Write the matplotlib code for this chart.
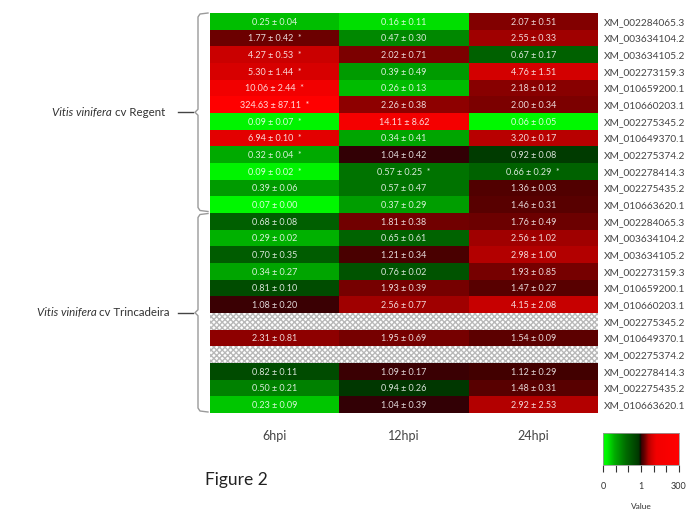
import numpy as np
import matplotlib
matplotlib.use("Agg")
import matplotlib.pyplot as plt
from matplotlib.colors import LinearSegmentedColormap, FuncNorm
from matplotlib.patches import Rectangle
from matplotlib.lines import Line2D

plt.rcParams["font.family"] = ["Lato", "DejaVu Sans"]

genes = ["XM_002284065.3", "XM_003634104.2", "XM_003634105.2", "XM_002273159.3",
         "XM_010659200.1", "XM_010660203.1", "XM_002275345.2", "XM_010649370.1",
         "XM_002275374.2", "XM_002278414.3", "XM_002275435.2", "XM_010663620.1"]
row_labels = genes + genes
timepoints = ["6hpi", "12hpi", "24hpi"]
cultivars = ["Regent", "Trincadeira"]

nan = np.nan
# fold change (mean) and sd per time point, Regent rows first then Trincadeira
mean_6 = [0.25, 1.77, 4.27, 5.30, 10.06, 324.63, 0.09, 6.94, 0.32, 0.09, 0.39, 0.07,
          0.68, 0.29, 0.70, 0.34, 0.81, 1.08, nan, 2.31, nan, 0.82, 0.50, 0.23]
sd_6 = [0.04, 0.42, 0.53, 1.44, 2.44, 87.11, 0.07, 0.10, 0.04, 0.02, 0.06, 0.00,
        0.08, 0.02, 0.35, 0.27, 0.10, 0.20, nan, 0.81, nan, 0.11, 0.21, 0.09]
mean_12 = [0.16, 0.47, 2.02, 0.39, 0.26, 2.26, 14.11, 0.34, 1.04, 0.57, 0.57, 0.37,
           1.81, 0.65, 1.21, 0.76, 1.93, 2.56, nan, 1.95, nan, 1.09, 0.94, 1.04]
sd_12 = [0.11, 0.30, 0.71, 0.49, 0.13, 0.38, 8.62, 0.41, 0.42, 0.25, 0.47, 0.29,
         0.38, 0.61, 0.34, 0.02, 0.39, 0.77, nan, 0.69, nan, 0.17, 0.26, 0.39]
mean_24 = [2.07, 2.55, 0.67, 4.76, 2.18, 2.00, 0.06, 3.20, 0.92, 0.66, 1.36, 1.46,
           1.76, 2.56, 2.98, 1.93, 1.47, 4.15, nan, 1.54, nan, 1.12, 1.48, 2.92]
sd_24 = [0.51, 0.33, 0.17, 1.51, 0.12, 0.34, 0.05, 0.17, 0.08, 0.29, 0.03, 0.31,
         0.49, 1.02, 1.00, 0.85, 0.27, 2.08, nan, 0.09, nan, 0.29, 0.31, 2.53]
# significant differences (rows marked with *)
sig_6 = [0, 1, 1, 1, 1, 1, 1, 1, 1, 1, 0, 0] + [0] * 12
sig_12 = [0] * 9 + [1] + [0] * 14
sig_24 = [0] * 9 + [1] + [0] * 14

means = np.array([mean_6, mean_12, mean_24]).T
sds = np.array([sd_6, sd_12, sd_24]).T
sigs = np.array([sig_6, sig_12, sig_24]).T
n_rows = means.shape[0]

# green -> black at 1 -> red, 0..1 on the lower half and log(1..300) on the upper half
def fwd(v):
    v = np.asarray(v, dtype=float)
    return np.where(v <= 1, 0.5 * v,
                    0.5 + 0.5 * np.log(np.maximum(v, 1.0)) / np.log(300))

def inv(p):
    p = np.asarray(p, dtype=float)
    return np.where(p <= 0.5, 2 * p, 300 ** ((p - 0.5) * 2))

norm = FuncNorm((fwd, inv), vmin=0, vmax=300)
cmap = LinearSegmentedColormap.from_list("gbr", [
    (0.0, (0.0, 1.0, 0.0)), (0.05, (0.0, 0.95, 0.0)), (0.15, (0.0, 0.68, 0.0)),
    (0.30, (0.0, 0.42, 0.0)), (0.47, (0.0, 0.22, 0.0)), (0.5, (0.05, 0.02, 0.0)),
    (0.502, (0.2, 0.0, 0.02)), (0.51, (0.26, 0.0, 0.0)), (0.535, (0.35, 0.0, 0.0)),
    (0.56, (0.48, 0.0, 0.0)), (0.596, (0.7, 0.0, 0.0)), (0.64, (0.83, 0.0, 0.0)),
    (0.70, (0.95, 0.0, 0.0)), (1.0, (1.0, 0.0, 0.0))])

W, H = 688, 509
fig = plt.figure(figsize=(W / 100, H / 100), dpi=100)

def fx(x):
    return x / W

def fy(y):
    return 1 - y / H

ax = fig.add_axes([fx(210), fy(413), 388 / W, 400 / H])
ax.pcolormesh(np.arange(4), np.arange(n_rows + 1), np.ma.masked_invalid(means),
              cmap=cmap, norm=norm)
ax.set_xlim(0, 3)
ax.set_ylim(n_rows, 0)

for i in range(n_rows):
    if np.all(np.isnan(means[i])):
        ax.add_patch(Rectangle((0, i), 3, 1, facecolor="white", edgecolor="#b8b8b8",
                               hatch="xxxxxx", linewidth=0))
        continue
    for j in range(3):
        txt = f"{means[i, j]:.2f} ± {sds[i, j]:.2f}"
        if sigs[i, j]:
            txt += "  *"
        ax.text(j + 0.5, i + 0.55, txt, ha="center", va="center", fontsize=6.5,
                color="white", alpha=0.85)

ax.yaxis.tick_right()
ax.set_yticks(np.arange(n_rows) + 0.5)
ax.set_yticklabels(row_labels, fontsize=7.3, color="#444444")
ax.set_xticks(np.arange(3) + 0.5)
ax.set_xticklabels(timepoints, fontsize=9, color="#444444")
ax.tick_params(length=0)
ax.tick_params(axis="y", pad=4)
ax.tick_params(axis="x", pad=12)
for s in ax.spines.values():
    s.set_visible(False)

# braces grouping the two cultivars
renderer = fig.canvas.get_renderer()
for k, name in enumerate(cultivars):
    top = 13 + k * 200.5
    bot = top + 198.5
    mid = (top + bot) / 2
    xs = [208, 200, 198, 198, 195, 198, 198, 200, 208]
    ys = [top, top + 1, top + 4, mid - 3, mid, mid + 3, bot - 4, bot - 1, bot]
    fig.add_artist(Line2D([fx(x) for x in xs], [fy(y) for y in ys],
                          color="#9a9a9a", lw=1.0))
    fig.add_artist(Line2D([fx(178), fx(193)], [fy(mid), fy(mid)], color="#444444", lw=1.0))

    right = 165 if k == 0 else 170
    t2 = fig.text(fx(right), fy(mid), " cv " + name, ha="right", va="center",
                  fontsize=8.3, color="#333333")
    w = t2.get_window_extent(renderer).width
    fig.text(fx(right - w), fy(mid), "Vitis vinifera", ha="right", va="center",
             fontsize=8.3, color="#333333", style="italic")

fig.text(fx(205), fy(480), "Figure 2", ha="left", va="center", fontsize=12.5,
         color="#222222")

# colour key
cax = fig.add_axes([fx(603), fy(465), 76 / W, 32 / H])
grad = np.linspace(0, 1, 512)[None, :]
cax.imshow(grad, aspect="auto", cmap=cmap, extent=[0, 1, 0, 1])
cax.set_yticks([])
cax.set_xticks(np.linspace(0, 1, 7))
cax.set_xticklabels(["0", "", "", "1", "", "", "300"], fontsize=6.5, color="#333333")
cax.tick_params(axis="x", length=5, width=0.8, color="#333333", pad=7)
cax.set_xlabel("Value", fontsize=6, color="#333333", labelpad=9)
for s in cax.spines.values():
    s.set_color("#999999")
    s.set_linewidth(0.6)

fig.savefig("out.png", dpi=100)
